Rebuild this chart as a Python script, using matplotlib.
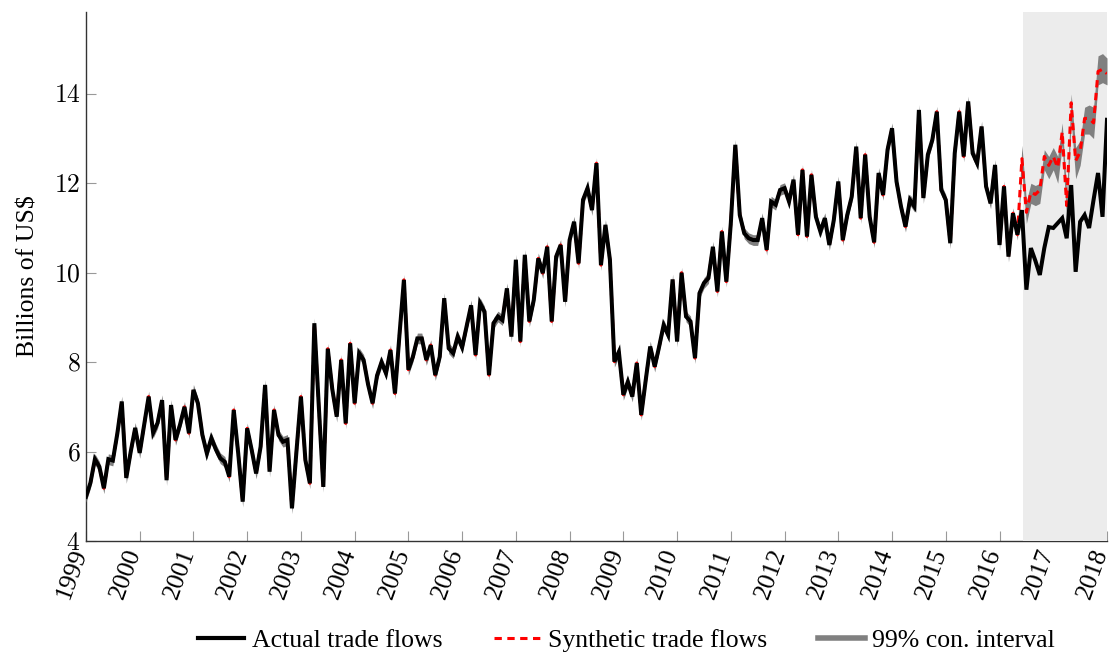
import matplotlib.pyplot as plt
import matplotlib.transforms as mtransforms
import numpy as np
from matplotlib.lines import Line2D

plt.rcParams['font.family'] = ['Liberation Serif', 'DejaVu Serif']
plt.rcParams['mathtext.fontset'] = 'cm'
plt.rcParams['font.size'] = 18.5

START_YEAR = 1999

# monthly actual trade flows, Jan 1999 .. Jan 2018 (billions of US$)
actual = [
    4.99, 5.30, 5.83, 5.66, 5.18, 5.83, 5.80, 6.40, 7.12, 5.41, 6.00, 6.53,
    5.97, 6.60, 7.23, 6.42, 6.64, 7.15, 5.36, 7.04, 6.26, 6.60, 7.00, 6.41,
    7.38, 7.08, 6.37, 5.96, 6.30, 6.05, 5.85, 5.77, 5.44, 6.93, 5.96, 4.88,
    6.52, 6.04, 5.51, 6.11, 7.49, 5.55, 6.93, 6.37, 6.22, 6.26, 4.73, 6.00,
    7.23, 5.81, 5.29, 8.87, 7.00, 5.21, 8.30, 7.40, 6.78, 8.05, 6.63, 8.42,
    7.08, 8.20, 8.05, 7.50, 7.08, 7.70, 8.00, 7.75, 8.27, 7.30, 8.60, 9.84,
    7.83, 8.12, 8.53, 8.53, 8.05, 8.38, 7.71, 8.12, 9.43, 8.31, 8.20, 8.57,
    8.33, 8.80, 9.27, 8.16, 9.32, 9.13, 7.71, 8.87, 9.02, 8.94, 9.65, 8.57,
    10.29, 8.46, 10.40, 8.91, 9.39, 10.32, 9.99, 10.58, 8.91, 10.36, 10.62, 9.35,
    10.73, 11.14, 10.21, 11.63, 11.89, 11.40, 12.45, 10.17, 11.07, 10.29, 8.01, 8.23,
    7.27, 7.56, 7.23, 7.98, 6.82, 7.60, 8.35, 7.90, 8.35, 8.83, 8.61, 9.85,
    8.46, 10.00, 9.02, 8.91, 8.09, 9.54, 9.77, 9.88, 10.58, 9.58, 10.92, 9.80,
    11.11, 12.86, 11.29, 10.88, 10.77, 10.73, 10.73, 11.22, 10.51, 11.59, 11.52, 11.85,
    11.89, 11.59, 12.08, 10.85, 12.30, 10.81, 12.19, 11.25, 10.92, 11.22, 10.62, 11.18,
    12.04, 10.73, 11.29, 11.70, 12.82, 11.22, 12.64, 11.25, 10.68, 12.23, 11.74, 12.75,
    13.23, 12.04, 11.48, 11.03, 11.63, 11.48, 13.64, 11.67, 12.64, 12.97, 13.60, 11.85,
    11.63, 10.66, 12.67, 13.60, 12.60, 13.83, 12.67, 12.45, 13.27, 11.93, 11.55, 12.41,
    10.62, 11.93, 10.36, 11.33, 10.85, 11.40, 9.62, 10.55, 10.27, 9.95, 10.55, 11.02,
    11.00, 11.11, 11.22, 10.77, 11.96, 10.02, 11.14, 11.29, 11.00, 11.63, 12.23, 11.25,
    13.42,
]

# out-of-sample part (from mid 2016 on)
forecast_start = 209
synthetic_forecast = [12.55, 11.35, 11.80, 11.75, 11.85, 12.60, 12.40, 12.60, 12.35, 13.15,
                      11.50, 13.80, 12.50, 12.70, 13.45, 13.45, 13.35, 14.50, 14.55, 14.45]
ci_lower_forecast = [12.25, 11.10, 11.55, 11.50, 11.55, 12.30, 12.10, 12.30, 12.00, 12.85,
                     11.15, 13.40, 12.10, 12.40, 13.10, 13.10, 13.00, 14.20, 14.25, 14.20]
ci_upper_forecast = [12.85, 11.60, 12.00, 11.95, 12.00, 12.75, 12.60, 12.80, 12.60, 13.35,
                     11.80, 14.00, 12.80, 12.95, 13.70, 13.75, 13.70, 14.85, 14.90, 14.80]
fit_band = 0.12
shade_start = 2016.43

years = list(range(1999, 2019))
yticks = [4, 6, 8, 10, 12, 14]

months = START_YEAR + np.arange(len(actual)) / 12.0
synthetic = np.array(actual[:forecast_start] + synthetic_forecast)
ci_lower = np.concatenate([synthetic[:forecast_start] - fit_band, ci_lower_forecast])
ci_upper = np.concatenate([synthetic[:forecast_start] + fit_band, ci_upper_forecast])

fig = plt.figure(figsize=(11.12, 6.56), dpi=100)
ax = fig.add_axes([0.0773, 0.1753, 0.9182, 0.8064])

# shading sits over the bottom axis line, like the original
ax.axvspan(shade_start, 2018, color='#ececec', lw=0, zorder=3)
ax.fill_between(months, ci_lower, ci_upper, color='#808080', lw=0, zorder=4)
ax.plot(months, synthetic, color='red', lw=2.2, ls=(0, (2.4, 1.8)), zorder=5)
ax.plot(months, actual, color='black', lw=2.9, solid_joinstyle='miter', zorder=6)

ax.set_xlim(1999, 2018)
ax.set_ylim(4, 15.83)
for side in ['top', 'right']:
    ax.spines[side].set_visible(False)
for side in ['left', 'bottom']:
    ax.spines[side].set_color('#333333')
    ax.spines[side].set_linewidth(1.0)

# year labels drawn as plain texts so they can sit a little left of the tick
ax.set_xticks(years)
ax.set_xticklabels([])
offset = mtransforms.ScaledTranslation(-0.05, -0.09, fig.dpi_scale_trans)
for y in years:
    ax.text(y, 0, str(y), transform=ax.get_xaxis_transform() + offset,
            rotation=70, ha='right', va='center', rotation_mode='anchor')

ax.set_yticks(yticks)
ax.set_yticklabels(['$%d$' % v for v in yticks])
ax.tick_params(direction='in', length=7, width=0.8, color='#999999')
ax.tick_params(axis='y', pad=4)
for t in ax.xaxis.get_major_ticks():
    t.tick1line.set_zorder(7)
ax.set_ylabel(r'Billions of US\$', labelpad=10)

handles = [
    Line2D([], [], color='black', lw=3),
    Line2D([], [], color='red', lw=2.2, ls=(0, (2.4, 1.8))),
    Line2D([], [], color='#808080', lw=4),
]
labels = ['Actual trade flows', 'Synthetic trade flows', '99% con. interval']
fig.legend(handles, labels, loc='center', bbox_to_anchor=(0.5634, 0.023), ncol=3,
           frameon=False, handlelength=1.8, handletextpad=0.3, columnspacing=2.0,
           borderaxespad=0)

fig.savefig('out.png', dpi=100)
